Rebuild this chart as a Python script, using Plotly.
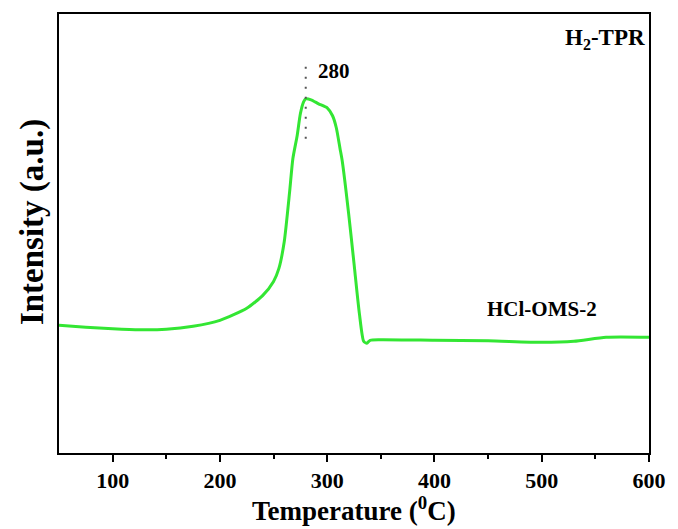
import plotly.graph_objects as go

temperature = [50, 75, 100, 125, 150, 175, 200, 225, 240, 250, 255, 260, 265, 268, 272, 275, 278, 280,
               285, 292, 300, 305, 308.5, 312, 314, 320, 325, 330, 334, 337, 340, 350, 400, 450, 500, 530, 560, 600]
intensity = [128, 126, 124.5, 123.5, 124, 127, 133, 145, 158, 172, 185, 212, 262, 295, 318, 340, 352, 355,
             354, 350, 346, 338, 326, 305, 293, 240, 190, 140, 112, 110, 113, 113.5, 113, 112.5, 111, 112, 116, 116]
peak_temp = 280
peak_line = [315, 392]
x_ticks = [100, 200, 300, 400, 500, 600]
x_minor = [150, 250, 350, 450, 550]

font = "Liberation Serif"
fig = go.Figure()
fig.add_trace(go.Scatter(x=temperature, y=intensity, mode="lines",
                         line=dict(color="#33e633", width=3, shape="spline", smoothing=0.6), showlegend=False))
fig.add_trace(go.Scatter(x=[peak_temp, peak_temp], y=peak_line, mode="lines",
                         line=dict(color="#555555", width=2, dash="2px,8px"), showlegend=False))

fig.update_layout(
    width=678, height=529,
    margin=dict(l=59, r=20, t=14, b=76),
    plot_bgcolor="white", paper_bgcolor="white",
    font=dict(family=font, color="black"),
    xaxis=dict(range=[50, 600], tickvals=x_ticks, ticks="outside", ticklen=7, tickwidth=2, tickcolor="black",
               minor=dict(tickvals=x_minor, ticks="outside", ticklen=4, tickwidth=2, tickcolor="black"),
               showline=True, linewidth=2, linecolor="black", mirror=True, showgrid=False, zeroline=False,
               tickfont=dict(size=22, family=font, weight="bold")),
    yaxis=dict(range=[0, 440], showticklabels=False, ticks="", showline=True, linewidth=2, linecolor="black",
               mirror=True, showgrid=False, zeroline=False),
    annotations=[
        dict(x=0.5, y=-0.128, xref="paper", yref="paper", xanchor="center", yanchor="middle", showarrow=False,
             text="Temperature (<sup>0</sup>C)", font=dict(size=27, family=font, weight="bold")),
        dict(x=-0.045, y=0.527, xref="paper", yref="paper", xanchor="center", yanchor="middle", showarrow=False,
             textangle=-90, text="Intensity (a.u.)", font=dict(size=33, family=font, weight="bold")),
        dict(x=0.996, y=0.943, xref="paper", yref="paper", xanchor="right", yanchor="middle", showarrow=False,
             text="H<sub>2</sub>-TPR", font=dict(size=23, family=font, weight="bold")),
        dict(x=500, y=144, xref="x", yref="y", showarrow=False, text="HCl-OMS-2",
             font=dict(size=21, family=font, weight="bold")),
        dict(x=peak_temp + 26, y=383, xref="x", yref="y", showarrow=False, text=str(peak_temp),
             font=dict(size=21, family=font, weight="bold")),
    ],
)
fig.write_html("out.html", config={"displayModeBar": False},
               post_script="document.body.style.margin='0px';document.documentElement.style.overflow='hidden';document.body.style.overflow='hidden';")
